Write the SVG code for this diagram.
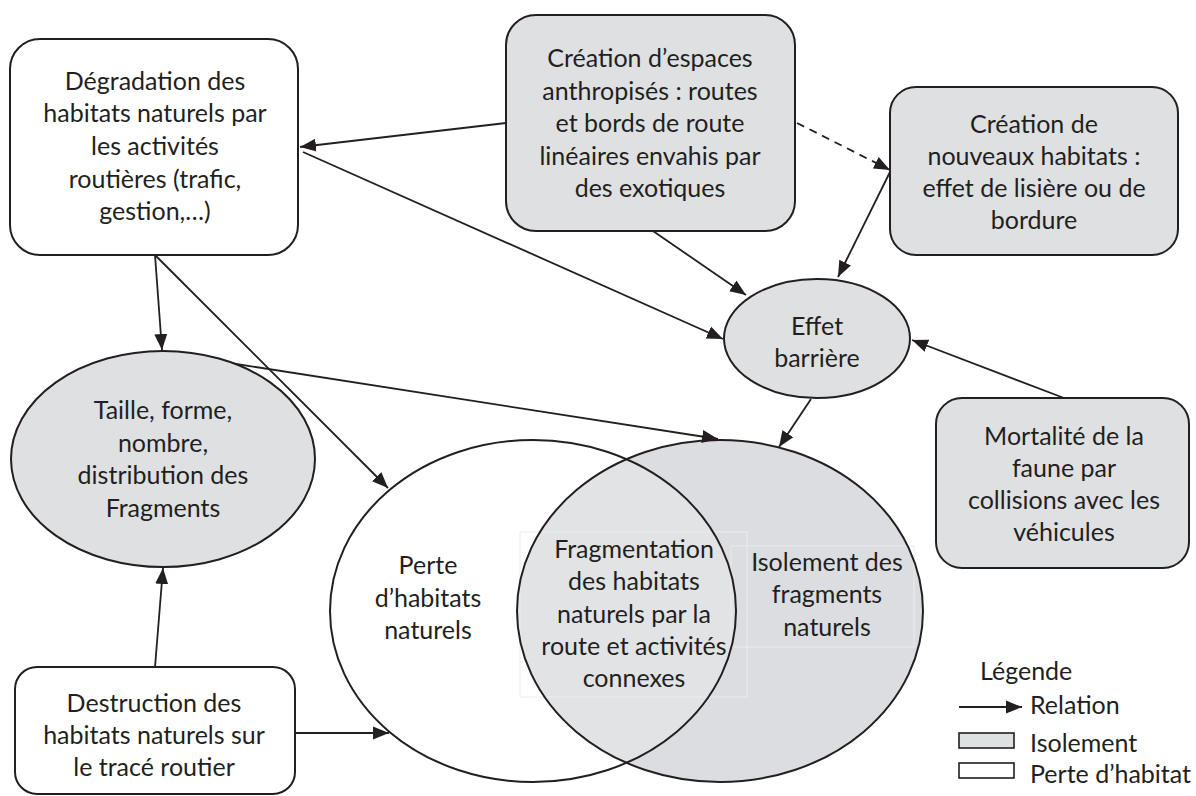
<svg xmlns="http://www.w3.org/2000/svg" width="1196" height="796" viewBox="0 0 1196 796">
  <style>
    .t { font-family: Lato, "Liberation Sans", sans-serif; font-size: 25px; fill: #231f20; text-anchor: middle; }
    .tl { font-family: Lato, "Liberation Sans", sans-serif; font-size: 25px; fill: #231f20; }
    .box { stroke: #231f20; stroke-width: 2; }
    .white { fill: #ffffff; }
    .grey { fill: #dfe0e2; }
    .edge { fill: none; stroke: #231f20; stroke-width: 1.8; }
    .dash { stroke-dasharray: 8 6; }
    .faint { fill: none; stroke: #ececee; stroke-width: 1; }
  </style>
  <defs>
    <marker id="arrow" markerUnits="userSpaceOnUse" markerWidth="17" markerHeight="14" refX="16" refY="7" orient="auto">
      <path d="M0,0.5 L16,7 L0,13.5 z" fill="#231f20"/>
    </marker>
    <clipPath id="clipPerte">
      <ellipse cx="533" cy="611" rx="203" ry="171"/>
    </clipPath>
  </defs>

  <rect width="1196" height="796" fill="#ffffff"/>

  <!-- Venn: habitat loss / isolation -->
  <g id="venn">
    <ellipse cx="533" cy="611" rx="203" ry="171" fill="#ffffff"/>
    <ellipse cx="720" cy="611" rx="203" ry="171" fill="#dcdde0"/>
    <ellipse cx="720" cy="611" rx="203" ry="171" fill="#e2e3e5" clip-path="url(#clipPerte)"/>
    <rect class="faint" x="520" y="532" width="227" height="165"/>
    <rect class="faint" x="731" y="546" width="183" height="101"/>
    <ellipse cx="533" cy="611" rx="203" ry="171" fill="none" stroke="#231f20" stroke-width="2"/>
    <ellipse cx="720" cy="611" rx="203" ry="171" fill="none" stroke="#231f20" stroke-width="2"/>
  </g>

  <g id="perte">
    <text class="t"><tspan x="428" y="574">Perte</tspan><tspan x="428" y="607">d’habitats</tspan><tspan x="428" y="639">naturels</tspan></text>
  </g>
  <g id="fragmentation">
    <text class="t"><tspan x="634" y="558">Fragmentation</tspan><tspan x="634" y="590">des habitats</tspan><tspan x="634" y="623">naturels par la</tspan><tspan x="634" y="655">route et activités</tspan><tspan x="634" y="687">connexes</tspan></text>
  </g>
  <g id="isolement">
    <text class="t"><tspan x="827" y="571">Isolement des</tspan><tspan x="827" y="603">fragments</tspan><tspan x="827" y="636">naturels</tspan></text>
  </g>

  <!-- connectors -->
  <g id="connectors">
    <line class="edge" x1="506" y1="123" x2="300" y2="147" marker-end="url(#arrow)"/>
    <line class="edge" x1="303" y1="152" x2="723" y2="339" marker-end="url(#arrow)"/>
    <line class="edge" x1="653" y1="231" x2="746" y2="295" marker-end="url(#arrow)"/>
    <line class="edge dash" x1="797" y1="123" x2="890" y2="170" marker-end="url(#arrow)"/>
    <line class="edge" x1="890" y1="172" x2="838" y2="277" marker-end="url(#arrow)"/>
    <line class="edge" x1="1064" y1="398" x2="912" y2="340" marker-end="url(#arrow)"/>
    <line class="edge" x1="811" y1="399" x2="779" y2="447" marker-end="url(#arrow)"/>
    <line class="edge" x1="230" y1="363" x2="718" y2="439" marker-end="url(#arrow)"/>
    <line class="edge" x1="155" y1="255" x2="162" y2="350" marker-end="url(#arrow)"/>
    <line class="edge" x1="155" y1="255" x2="388" y2="488" marker-end="url(#arrow)"/>
    <line class="edge" x1="155" y1="667" x2="163" y2="568" marker-end="url(#arrow)"/>
    <line class="edge" x1="295" y1="733" x2="389" y2="733" marker-end="url(#arrow)"/>
  </g>

  <g id="degradation">
    <rect class="box white" x="10" y="39" width="288" height="216" rx="30" ry="30"/>
    <text class="t"><tspan x="155" y="90">Dégradation des</tspan><tspan x="155" y="122">habitats naturels par</tspan><tspan x="155" y="155">les activités</tspan><tspan x="155" y="188">routières (trafic,</tspan><tspan x="155" y="220">gestion,…)</tspan></text>
  </g>

  <g id="espaces-anthropises">
    <rect class="box grey" x="506" y="15" width="289" height="216" rx="30" ry="30"/>
    <text class="t"><tspan x="650" y="67">Création d’espaces</tspan><tspan x="650" y="100">anthropisés : routes</tspan><tspan x="650" y="132">et bords de route</tspan><tspan x="650" y="165">linéaires envahis par</tspan><tspan x="650" y="197">des exotiques</tspan></text>
  </g>

  <g id="nouveaux-habitats">
    <rect class="box grey" x="890" y="87" width="288" height="168" rx="26" ry="26"/>
    <text class="t"><tspan x="1034" y="133">Création de</tspan><tspan x="1034" y="165">nouveaux habitats :</tspan><tspan x="1034" y="197">effet de lisière ou de</tspan><tspan x="1034" y="229">bordure</tspan></text>
  </g>

  <g id="effet-barriere">
    <ellipse class="box grey" cx="817" cy="338.5" rx="93" ry="59.5"/>
    <text class="t"><tspan x="817" y="335">Effet</tspan><tspan x="817" y="367">barrière</tspan></text>
  </g>

  <g id="mortalite">
    <rect class="box grey" x="936" y="398" width="253" height="170" rx="26" ry="26"/>
    <text class="t"><tspan x="1064" y="445">Mortalité de la</tspan><tspan x="1064" y="477">faune par</tspan><tspan x="1064" y="509">collisions avec les</tspan><tspan x="1064" y="541">véhicules</tspan></text>
  </g>

  <g id="fragments">
    <ellipse class="box grey" cx="163" cy="459" rx="152" ry="108"/>
    <text class="t"><tspan x="163" y="419">Taille, forme,</tspan><tspan x="163" y="452">nombre,</tspan><tspan x="163" y="484">distribution des</tspan><tspan x="163" y="517">Fragments</tspan></text>
  </g>

  <g id="destruction">
    <rect class="box white" x="15" y="667" width="280" height="127" rx="22" ry="22"/>
    <text class="t"><tspan x="154" y="712">Destruction des</tspan><tspan x="154" y="744">habitats naturels sur</tspan><tspan x="154" y="776">le tracé routier</tspan></text>
  </g>

  <g id="legende">
    <text class="tl" x="980" y="680">Légende</text>
    <line class="edge" x1="959" y1="707" x2="1022" y2="707" marker-end="url(#arrow)"/>
    <text class="tl" x="1030" y="714">Relation</text>
    <rect x="959" y="733" width="55" height="15" fill="#dfe0e2" stroke="#231f20" stroke-width="1.6"/>
    <text class="tl" x="1030" y="752">Isolement</text>
    <rect x="959" y="763" width="55" height="15" fill="#ffffff" stroke="#231f20" stroke-width="1.6"/>
    <text class="tl" x="1030" y="783">Perte d’habitat</text>
  </g>
</svg>
